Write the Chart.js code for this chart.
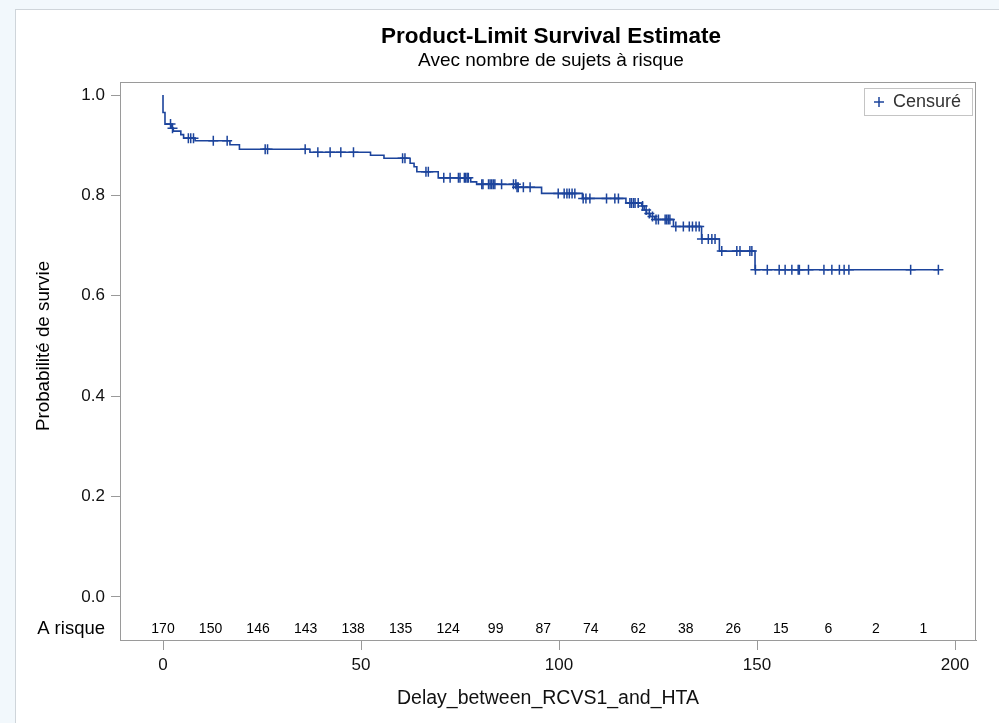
<!DOCTYPE html>
<html>
<head>
<meta charset="utf-8">
<script src="https://cdn.jsdelivr.net/npm/chart.js@4.4.1/dist/chart.umd.min.js"></script>
<style>
  html, body { margin: 0; padding: 0; width: 999px; height: 723px; overflow: hidden; background: #f2f8fc; }
  #panel { position: absolute; left: 15px; top: 9px; width: 990px; height: 720px; background: #fff; border: 1px solid #cfd5da; }
  #wrap { position: absolute; left: 0; top: 0; width: 999px; height: 723px; }
</style>
</head>
<body>
<div id="panel"></div>
<div id="wrap"><canvas id="km" width="999" height="723"></canvas></div>
<script>
// Kaplan-Meier steps: time of each event and survival just after it
const eventTimes = [0, 0, 0.5, 2.1, 2.6, 4.5, 5.2, 8.1, 16.9, 19.3, 37.1, 52.4, 55.8, 62.4, 63.4, 64.1,
  69.5, 77.7, 79.2, 89.3, 95.6, 105.9, 116.9, 120.9, 121.5, 122.1, 123.0, 124.2, 128.9, 136.0, 140.5, 149.5];
const survival = [1.0, 0.965, 0.942, 0.934, 0.928, 0.921, 0.914, 0.909, 0.901, 0.892, 0.886, 0.880, 0.874, 0.864, 0.857, 0.847,
  0.835, 0.827, 0.822, 0.816, 0.804, 0.794, 0.785, 0.779, 0.771, 0.764, 0.758, 0.752, 0.738, 0.713, 0.689, 0.652];
const lastTime = 196;

// censored observations
const censorTimes = [1.9, 2.4, 6.4, 7.0, 7.7, 12.7, 16.2, 25.8, 26.4, 35.9, 39.1, 42.2, 44.9, 48.1,
  60.5, 61.1, 66.4, 67.0, 70.9, 72.5, 74.6, 75.0, 76.1, 76.4, 76.8, 77.1,
  80.5, 80.8, 82.2, 82.6, 83.0, 83.4, 83.8, 85.5, 88.5, 89.1, 89.4, 89.7, 91.0, 92.7,
  99.8, 101.3, 102.0, 102.6, 103.3, 104.0, 106.1, 106.8, 107.8, 112.0, 114.1, 115.0,
  117.9, 118.3, 118.8, 119.2, 120.0, 121.1, 122.0, 122.8, 123.6, 124.5, 125.1,
  126.8, 127.2, 127.6, 128.0, 129.5, 131.4, 132.9, 133.7, 134.6, 135.4, 136.1, 137.7, 138.6, 139.4,
  141.1, 144.9, 145.7, 148.2, 148.7, 149.6, 152.6, 155.6, 157.1, 158.8, 160.4, 160.7, 163.0,
  166.9, 168.9, 170.8, 172.0, 173.2, 188.8, 195.8];

const atRiskTimes = [0, 12, 24, 36, 48, 60, 72, 84, 96, 108, 120, 132, 144, 156, 168, 180, 192];
const atRiskCounts = [170, 150, 146, 143, 138, 135, 124, 99, 87, 74, 62, 38, 26, 15, 6, 2, 1];

const xTicks = [0, 50, 100, 150, 200];
const yTicks = [0, 0.2, 0.4, 0.6, 0.8, 1.0];
const atRiskLevel = -0.064;

const blue = "#1c449c";
const axisGray = "#9a9a9a";
const font = "'Liberation Sans', Arial, sans-serif";
Chart.defaults.font.family = font;

function survAt(t) {
  let s = 1;
  eventTimes.forEach((et, i) => { if (et <= t) s = survival[i]; });
  return s;
}

const curve = eventTimes.map((t, i) => ({ x: t, y: survival[i] }));
curve.push({ x: lastTime, y: survival[survival.length - 1] });
const censored = censorTimes.map((t) => ({ x: t, y: survAt(t) }));

const sasText = {
  id: "sasText",
  beforeDatasetsDraw(chart) {
    const { ctx, chartArea: a } = chart;
    ctx.save();
    ctx.strokeStyle = axisGray;
    ctx.lineWidth = 1;
    ctx.strokeRect(a.left + 0.5, a.top + 0.5, a.right - a.left - 1, a.bottom - a.top);
    ctx.restore();
  },
  afterDraw(chart) {
    const { ctx, chartArea: a, scales: { x, y } } = chart;
    const cx = (a.left + a.right) / 2 + 3;
    ctx.save();
    ctx.fillStyle = "#000";
    ctx.textAlign = "center";
    ctx.textBaseline = "middle";
    ctx.font = "bold 22.5px " + font;
    ctx.fillText("Product-Limit Survival Estimate", cx, 37);
    ctx.font = "19px " + font;
    ctx.fillText("Avec nombre de sujets à risque", cx, 61);

    // y axis title, centred on the 0..1 range
    ctx.save();
    ctx.translate(44, y.getPixelForValue(0.5));
    ctx.rotate(-Math.PI / 2);
    ctx.font = "18.8px " + font;
    ctx.fillText("Probabilité de survie", 0, 0);
    ctx.restore();

    // number at risk row
    const ry = y.getPixelForValue(atRiskLevel);
    ctx.font = "18.5px " + font;
    ctx.textAlign = "right";
    ctx.fillText("A risque", a.left - 15, ry);
    ctx.font = "14px " + font;
    ctx.textAlign = "center";
    atRiskTimes.forEach((t, i) => {
      ctx.fillText(String(atRiskCounts[i]), x.getPixelForValue(t), ry);
    });

    // legend box
    const bw = 108, bh = 27;
    const bx = a.right - 4 - bw, by = a.top + 6;
    ctx.fillStyle = "#fff";
    ctx.fillRect(bx, by, bw, bh);
    ctx.strokeStyle = "#c4c4c4";
    ctx.strokeRect(bx + 0.5, by + 0.5, bw, bh);
    ctx.strokeStyle = blue;
    ctx.lineWidth = 1.5;
    ctx.beginPath();
    ctx.moveTo(bx + 10, by + bh / 2 + 0.5);
    ctx.lineTo(bx + 20, by + bh / 2 + 0.5);
    ctx.moveTo(bx + 15, by + bh / 2 - 4.5);
    ctx.lineTo(bx + 15, by + bh / 2 + 5.5);
    ctx.stroke();
    ctx.fillStyle = "#333";
    ctx.textAlign = "left";
    ctx.font = "18px " + font;
    ctx.fillText("Censuré", bx + 29, by + bh / 2 + 1);
    ctx.restore();
  },
};

new Chart(document.getElementById("km"), {
  data: {
    datasets: [
      {
        type: "line",
        label: "Survie",
        data: curve,
        stepped: true,
        borderColor: blue,
        borderWidth: 1.6,
        pointRadius: 0,
        fill: false,
      },
      {
        type: "scatter",
        label: "Censuré",
        data: censored,
        pointStyle: "cross",
        pointRadius: 5,
        borderColor: blue,
        borderWidth: 1.5,
      },
    ],
  },
  options: {
    responsive: false,
    animation: false,
    devicePixelRatio: 1,
    layout: { padding: { top: 82, right: 23, bottom: 0, left: 0 } },
    plugins: {
      legend: { display: false },
      tooltip: { enabled: false },
      title: { display: false },
    },
    scales: {
      x: {
        type: "linear",
        min: -10.86,
        max: 205.3,
        afterBuildTicks: (s) => { s.ticks = xTicks.map((v) => ({ value: v })); },
        afterFit: (s) => { s.height = 83; },
        grid: { drawOnChartArea: false, drawTicks: true, tickLength: 10, color: axisGray },
        border: { color: axisGray },
        ticks: { color: "#111", padding: 5, font: { size: 17 }, maxRotation: 0 },
        title: {
          display: true,
          text: "Delay_between_RCVS1_and_HTA",
          color: "#111",
          font: { size: 19.5 },
          padding: { top: 0, bottom: 13 },
        },
      },
      y: {
        type: "linear",
        min: -0.0857,
        max: 1.0259,
        afterBuildTicks: (s) => { s.ticks = yTicks.map((v) => ({ value: v })); },
        afterFit: (s) => { s.width = 120; },
        grid: { drawOnChartArea: false, drawTicks: true, tickLength: 9, color: axisGray },
        border: { color: axisGray },
        ticks: { color: "#111", padding: 6, font: { size: 17 }, callback: (v) => v.toFixed(1) },
      },
    },
  },
  plugins: [sasText],
});
</script>
</body>
</html>
